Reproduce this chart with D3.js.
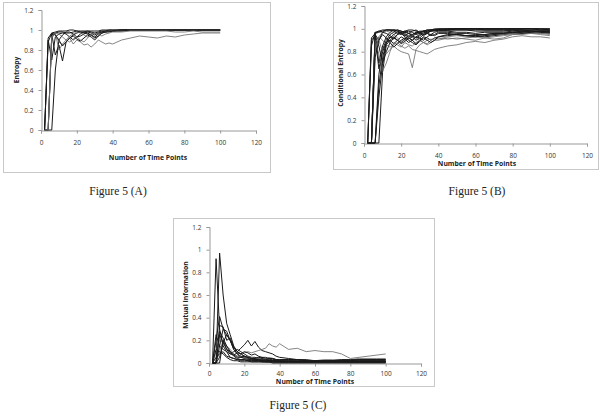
<!DOCTYPE html>
<html>
<head>
<meta charset="utf-8">
<script src="https://cdn.jsdelivr.net/npm/d3@7"></script>
<style>
  body { margin: 0; background: #fff; }
  svg { display: block; }
  .tick text { font-family: "Open Sans", "DejaVu Sans", sans-serif; font-size: 6.5px; fill: #333; }
  .ttl { font-family: "Open Sans", "DejaVu Sans", sans-serif; font-size: 6.8px; font-weight: bold; fill: #222; }
  .cap { font-family: "Liberation Serif", serif; font-size: 11.5px; fill: #222; }
</style>
</head>
<body>
<div id="chart"></div>
<script>
// time points shared by all series
const timePoints = [2,4,6,8,10,12,14,16,18,20,22,24,26,28,30,32,34,36,38,40,45,50,55,60,65,70,75,80,85,90,95,100];
const xTicks = [0, 20, 40, 60, 80, 100, 120];
const yTicks = [0, 0.2, 0.4, 0.6, 0.8, 1, 1.2];

// Figure 5 (A) - entropy
const entropy = [
  [0,.92,.97,.98,.99,.99,.99,1,1,.99,.99,.99,.99,.99,.99,.99,1,1,1,1,1,1,1,1,1,1,1,1,1,1,1,1],
  [0,0,.95,.97,.98,.98,.97,.97,.98,.99,.98,.98,.99,.98,.97,.98,.99,.99,1,1,1,1,1,1,1,1,1,1,1,1,1,1],
  [0,.9,.7,.93,.96,.97,.96,.93,.9,.93,.96,.98,.97,.95,.93,.96,.98,.99,.99,.99,1,1,1,1,1,1,1,1,1,1,1,1],
  [0,0,0,.6,.9,.95,.98,.98,.96,.93,.94,.96,.98,.97,.95,.97,.98,.98,.99,.99,1,1,1,1,1,1,1,1,1,1,1,1],
  [0,0,.96,.75,.85,.69,.88,.92,.95,.97,.98,.97,.96,.95,.92,.94,.97,.98,.99,.99,1,1,1,1,1,1,1,1,1,1,1,1],
  [0,0,.94,.97,.8,.86,.9,.88,.91,.93,.9,.88,.92,.96,.97,.96,.97,.98,.99,.99,.99,1,1,1,1,1,1,1,1,1,1,1],
  [0,0,.93,.96,.88,.85,.88,.92,.86,.9,.88,.85,.86,.83,.86,.9,.88,.86,.87,.86,.9,.92,.94,.93,.92,.94,.93,.95,.96,.97,.97,.97],
  [0,.88,.97,.95,.9,.84,.88,.92,.94,.91,.89,.92,.95,.93,.9,.94,.97,.98,.98,.99,.99,1,1,1,1,1,1,1,1,1,1,1],
  [0,0,.92,.97,.96,.93,.9,.94,.96,.98,.97,.95,.93,.95,.97,.96,.94,.96,.97,.98,.98,.99,.99,.99,.99,.99,.98,.98,.99,.98,.98,.98]
];
const entropyGray = [5, 6, 8];

// Figure 5 (B) - conditional entropy
const condEntropy = [
  [0,.92,.96,.98,.99,.99,.99,.99,.98,.97,.98,.99,.99,.98,.97,.98,.99,.99,1,1,1,1,1,1,1,1,1,1,1,1,1,1],
  [0,0,.95,.9,.97,.99,.99,.98,.96,.95,.97,.98,.97,.95,.96,.98,.99,.99,.99,1,1,1,1,1,1,1,1,1,1,1,1,.99],
  [0,0,.97,.7,.85,.93,.97,.99,.98,.96,.94,.96,.98,.99,.97,.95,.97,.98,.99,.99,.99,1,1,1,.99,.99,.99,.99,.98,.98,.98,.98],
  [0,0,0,.6,.82,.9,.95,.97,.99,.98,.96,.93,.95,.97,.96,.94,.96,.98,.98,.99,.99,.99,.99,.98,.98,.98,.98,.99,.99,.98,.97,.97],
  [0,0,0,.5,.75,.88,.93,.91,.95,.97,.95,.92,.9,.93,.95,.97,.96,.95,.97,.98,.98,.97,.97,.96,.97,.97,.97,.98,.98,.98,.98,.97],
  [0,.9,.94,.85,.7,.8,.88,.92,.9,.88,.91,.94,.93,.9,.92,.95,.96,.94,.95,.97,.97,.96,.96,.95,.95,.96,.96,.97,.98,.98,.97,.97],
  [0,0,.93,.65,.8,.88,.9,.87,.9,.93,.91,.88,.9,.93,.92,.9,.93,.95,.94,.96,.96,.95,.94,.94,.95,.96,.96,.97,.97,.98,.98,.98],
  [0,0,0,0,.62,.86,.9,.93,.9,.87,.89,.92,.9,.87,.9,.93,.92,.9,.92,.93,.94,.95,.94,.94,.93,.94,.95,.96,.97,.97,.97,.96],
  [0,0,.9,.78,.63,.7,.8,.88,.86,.84,.88,.86,.85,.88,.9,.88,.87,.9,.92,.91,.93,.94,.93,.93,.94,.95,.95,.96,.96,.97,.96,.96],
  [0,0,.85,.9,.8,.78,.82,.85,.82,.8,.79,.78,.66,.82,.86,.88,.86,.88,.9,.9,.92,.91,.92,.93,.92,.93,.94,.95,.95,.96,.96,.95],
  [0,0,.88,.93,.9,.86,.84,.86,.88,.85,.83,.85,.82,.81,.8,.79,.78,.8,.82,.83,.85,.86,.88,.89,.88,.9,.91,.93,.94,.93,.93,.92],
  [0,0,.8,.93,.97,.98,.97,.95,.92,.89,.9,.92,.94,.92,.9,.88,.9,.91,.9,.92,.91,.92,.91,.9,.92,.91,.92,.95,.96,.96,.95,.94],
  [0,.85,.97,.98,.97,.96,.94,.92,.95,.97,.98,.96,.94,.92,.94,.96,.98,.99,.99,.99,.99,1,1,1,1,1,1,1,1,1,1,1],
  [0,0,.75,.9,.95,.92,.88,.84,.87,.9,.92,.9,.88,.86,.89,.92,.9,.88,.9,.93,.95,.95,.94,.93,.94,.95,.96,.97,.96,.97,.98,.98],
  [0,0,0,.4,.7,.88,.92,.95,.97,.96,.93,.91,.93,.96,.98,.98,.97,.98,.99,.99,.99,.99,.99,.99,.99,.99,.99,.99,.99,.99,.99,.99],
  [0,0,.96,.97,.98,.99,.99,.99,.99,.98,.97,.96,.95,.96,.97,.98,.98,.99,.99,.99,1,1,1,1,1,1,1,1,1,1,.99,.99]
];
const condGray = [8, 9, 10, 11];

// Figure 5 (C) - mutual information
const mutualInfo = [
  [0,.92,.3,.15,.1,.05,.04,.03,.02,.02,.02,.01,.01,.01,.01,.01,.01,.01,.01,.01,.01,.01,.01,.01,.01,.01,.01,.01,.01,.01,.01,.01],
  [0,0,.97,.6,.35,.25,.15,.1,.08,.06,.05,.04,.04,.03,.03,.03,.02,.02,.02,.02,.02,.02,.02,.02,.02,.02,.02,.02,.02,.02,.02,.02],
  [0,.2,.41,.3,.25,.2,.12,.08,.06,.05,.04,.03,.03,.03,.02,.02,.02,.02,.02,.01,.01,.01,.01,.01,.01,.01,.01,.01,.01,.01,.01,.01],
  [0,0,.33,.32,.2,.22,.14,.1,.08,.06,.05,.04,.03,.03,.02,.02,.02,.02,.02,.02,.02,.01,.01,.01,.01,.01,.01,.01,.01,.01,.01,.01],
  [0,.25,.15,.3,.28,.2,.14,.1,.13,.16,.2,.15,.19,.14,.11,.1,.09,.08,.06,.05,.04,.03,.03,.02,.02,.02,.02,.02,.02,.02,.02,.02],
  [0,0,.1,.2,.15,.1,.08,.06,.07,.09,.1,.09,.1,.11,.12,.13,.17,.15,.14,.17,.12,.13,.1,.11,.1,.1,.08,.04,.05,.06,.07,.08],
  [0,0,.25,.18,.12,.08,.1,.12,.1,.08,.06,.05,.05,.04,.05,.04,.04,.04,.03,.03,.03,.03,.02,.02,.02,.02,.02,.01,.01,.01,.01,.01],
  [0,.1,.2,.18,.15,.12,.08,.06,.05,.05,.06,.05,.04,.05,.04,.03,.05,.04,.03,.03,.02,.02,.02,.02,.03,.03,.03,.03,.04,.04,.04,.04],
  [0,0,.15,.12,.1,.08,.07,.09,.08,.1,.09,.07,.08,.06,.05,.05,.04,.04,.03,.03,.03,.03,.02,.02,.02,.02,.02,.02,.03,.03,.03,.03],
  [0,0,.05,.18,.25,.2,.12,.08,.05,.04,.03,.03,.02,.02,.02,.01,.01,.01,.01,.01,.01,.01,.01,.01,.01,.01,.01,.01,.01,.01,.01,.01],
  [0,.05,.08,.1,.06,.05,.04,.03,.03,.03,.02,.02,.02,.02,.02,.02,.02,.01,.01,.01,.01,.01,.01,.01,.01,.01,.01,.01,.01,.01,.01,.01],
  [0,0,0,.2,.12,.1,.06,.04,.03,.03,.02,.02,.02,.02,.01,.01,.01,.01,.01,.01,.01,.01,.01,.01,.01,.01,.01,.01,.01,.01,.01,.01],
  [0,.12,.1,.08,.05,.03,.02,.02,.01,.01,.01,.01,.01,.01,.01,.01,.01,0,0,0,0,0,0,0,0,0,0,0,0,0,0,0],
  [0,0,.28,.22,.15,.1,.07,.05,.05,.06,.05,.04,.04,.05,.04,.03,.03,.03,.03,.02,.02,.02,.02,.02,.02,.02,.03,.03,.03,.03,.03,.03]
];
const mutualGray = [5, 7];

const W = 600, H = 417;
const svg = d3.select("#chart").append("svg").attr("width", W).attr("height", H);

const panels = [
  { data: entropy, gray: entropyGray, title: "Entropy", caption: "Figure 5 (A)",
    frame: [3, 2, 267, 170], plot: [41, 256, 130, 10], tickY: 143, titleX: 148, titleY: 158, yTitleX: 17, yTitleY: 70, capX: 118, capY: 195 },
  { data: condEntropy, gray: condGray, title: "Conditional Entropy", caption: "Figure 5 (B)",
    frame: [333, 2, 265, 167], plot: [364, 587, 143, 6], tickY: 156, titleX: 477, titleY: 164.5, yTitleX: 341, yTitleY: 73, capX: 477, capY: 195 },
  { data: mutualInfo, gray: mutualGray, title: "Mutual Information", caption: "Figure 5 (C)",
    frame: [173, 218, 261, 168], plot: [209, 421, 363, 227], tickY: 374, titleX: 315, titleY: 382.5, yTitleX: 186, yTitleY: 295, capX: 298, capY: 409 }
];

panels.forEach(p => {
  const g = svg.append("g");
  g.append("rect")
    .attr("x", p.frame[0] + 0.5).attr("y", p.frame[1] + 0.5)
    .attr("width", p.frame[2]).attr("height", p.frame[3])
    .attr("fill", "none").attr("stroke", "#c8c8c8").attr("stroke-width", 1);

  const x = d3.scaleLinear().domain([0, 120]).range([p.plot[0], p.plot[1]]);
  const y = d3.scaleLinear().domain([0, 1.2]).range([p.plot[2], p.plot[3]]);

  const yAxis = g.append("g")
    .attr("transform", `translate(${p.plot[0] + 0.5},0)`)
    .call(d3.axisLeft(y).tickValues(yTicks).tickSize(3).tickPadding(5).tickFormat(d3.format("~g")));
  const xAxis = g.append("g")
    .attr("transform", `translate(0,${p.plot[2] + 0.5})`)
    .call(d3.axisBottom(x).tickValues(xTicks).tickSize(3).tickPadding(7));
  [xAxis, yAxis].forEach(a => {
    a.select(".domain").attr("stroke", "#999");
    a.selectAll(".tick line").attr("stroke", "#999");
  });
  xAxis.selectAll(".tick text").attr("dy", null)
    .attr("y", p.tickY - p.plot[2]).attr("dominant-baseline", "middle");

  const line = d3.line().x((d, i) => x(timePoints[i])).y(d => y(d));
  g.selectAll("path.series")
    .data(p.data)
    .join("path")
    .attr("class", "series")
    .attr("d", line)
    .attr("fill", "none")
    .attr("stroke", (d, i) => p.gray.includes(i) ? "#666" : "#1a1a1a")
    .attr("stroke-width", (d, i) => p.gray.includes(i) ? 0.8 : 1)
    .attr("stroke-linejoin", "round");

  g.append("text").attr("class", "ttl")
    .attr("x", p.titleX).attr("y", p.titleY)
    .attr("text-anchor", "middle").attr("dominant-baseline", "middle")
    .text("Number of Time Points");
  g.append("text").attr("class", "ttl")
    .attr("transform", `translate(${p.yTitleX},${p.yTitleY}) rotate(-90)`)
    .attr("text-anchor", "middle").attr("dominant-baseline", "middle")
    .text(p.title);
  svg.append("text").attr("class", "cap")
    .attr("x", p.capX).attr("y", p.capY)
    .attr("text-anchor", "middle")
    .text(p.caption);
});
</script>
</body>
</html>
